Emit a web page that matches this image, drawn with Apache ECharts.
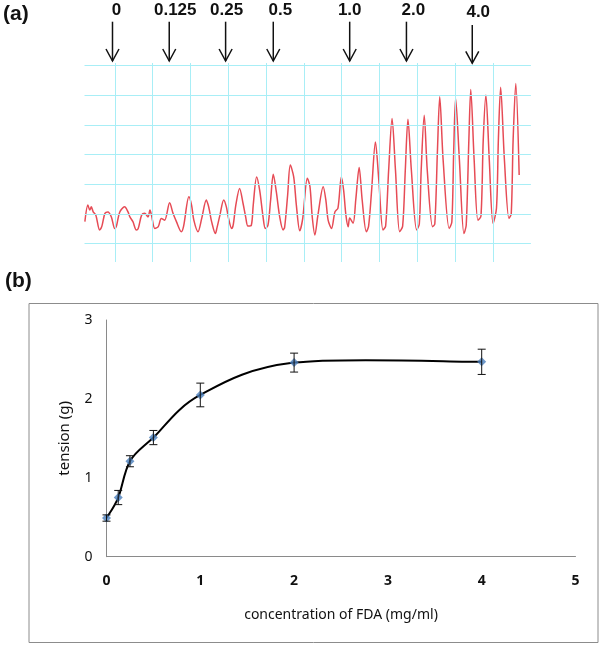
<!DOCTYPE html>
<html>
<head>
<meta charset="utf-8">
<script src="https://cdn.jsdelivr.net/npm/echarts@6/dist/echarts.min.js"></script>
<style>
html,body{margin:0;padding:0;background:#fff;}
#c{width:600px;height:646px;}
</style>
</head>
<body>
<div id="c"></div>
<script>
// ---------- DATA ----------
// Panel (a): recorded contraction trace, in chart-paper grid divisions [time, tension]
const tracePoints = [
 [0.21,0.74],[0.29,1.30],[0.34,1.13],[0.38,1.24],[0.43,1.07],[0.50,0.96],[0.60,0.46],[0.66,0.59],
 [0.74,1.02],[0.82,1.07],[0.91,0.90],[1.00,0.51],[1.05,0.62],[1.13,1.06],[1.26,1.24],[1.35,1.07],
 [1.40,0.90],[1.48,0.74],[1.57,0.46],[1.62,0.51],[1.71,0.96],[1.79,1.02],[1.88,0.90],[1.93,1.13],
 [1.97,0.96],[2.06,0.51],[2.15,0.57],[2.23,0.85],[2.32,0.79],[2.45,1.38],[2.54,1.02],[2.63,0.74],
 [2.76,0.40],[2.82,0.59],[2.96,1.58],[3.03,1.30],[3.09,0.79],[3.20,0.40],[3.30,0.86],[3.42,1.47],
 [3.47,1.30],[3.51,1.07],[3.56,0.74],[3.66,0.34],[3.70,0.52],[3.78,0.96],[3.88,1.47],[3.95,1.24],
 [4.00,0.90],[4.09,0.51],[4.13,0.62],[4.20,1.30],[4.30,1.86],[4.39,1.36],[4.46,0.90],[4.52,0.59],
 [4.61,0.62],[4.66,1.30],[4.75,2.25],[4.83,1.80],[4.92,0.90],[4.98,0.51],[5.05,0.62],[5.12,1.47],
 [5.19,2.34],[5.27,1.75],[5.36,0.90],[5.45,0.46],[5.49,0.55],[5.57,1.64],[5.64,2.65],[5.73,2.25],
 [5.80,1.30],[5.89,0.43],[5.97,0.86],[6.09,2.20],[6.16,1.92],[6.22,0.90],[6.29,0.29],[6.37,0.96],
 [6.51,1.92],[6.58,1.47],[6.64,0.79],[6.73,0.51],[6.82,1.07],[6.90,1.20],[6.99,2.25],[7.05,1.80],
 [7.11,0.96],[7.17,0.57],[7.21,0.86],[7.30,0.69],[7.37,1.47],[7.46,2.57],[7.54,1.47],[7.65,0.40],
 [7.71,0.59],[7.79,1.80],[7.89,3.43],[7.98,2.14],[8.09,0.46],[8.16,0.59],[8.24,2.48],[8.33,4.22],
 [8.42,2.48],[8.53,0.40],[8.61,0.59],[8.68,2.48],[8.75,4.19],[8.84,2.48],[8.98,0.46],[9.05,0.66],
 [9.10,2.48],[9.18,4.33],[9.26,2.48],[9.40,0.57],[9.46,0.66],[9.53,3.15],[9.59,4.95],[9.68,2.82],
 [9.84,0.51],[9.91,0.73],[9.96,3.15],[10.01,4.90],[10.11,2.82],[10.23,0.34],[10.29,0.62],[10.36,3.49],
 [10.41,5.20],[10.50,2.82],[10.60,0.79],[10.68,0.93],[10.74,3.49],[10.81,5.01],[10.90,2.82],[11.00,0.68],
 [11.09,1.19],[11.14,3.49],[11.20,5.27],[11.30,2.82],[11.42,0.85],[11.48,1.00],[11.53,3.49],[11.60,5.40],
 [11.69,2.31]
];
const paperLinesX = [1,2,3,4,5,6,7,8,9,10,11];
const paperLinesY = [0,1,2,3,4,5,6];
const doseLabels = ['0','0.125','0.25','0.5','1.0','2.0','4.0'];
const doseTimes  = [0.94, 2.44, 3.93, 5.19, 7.21, 8.71, 10.45];

// Panel (b): dose-response
const concentration = [0, 0.125, 0.25, 0.5, 1, 2, 4];
const tensionMean   = [0.49, 0.75, 1.21, 1.51, 2.05, 2.46, 2.47];
const tensionErr    = [0.04, 0.09, 0.07, 0.09, 0.15, 0.12, 0.16];
const xTicks = [0,1,2,3,4,5];
const yTicks = [0,1,2,3];

// ---------- CHART ----------
const chart = echarts.init(document.getElementById('c'), null, {renderer:'canvas'});
const curveData = concentration.map((c,i)=>[c, tensionMean[i]]);
const errData = concentration.map((c,i)=>[c, tensionMean[i]-tensionErr[i], tensionMean[i]+tensionErr[i]]);
const sansB = '"Noto Sans", "Open Sans", sans-serif';
const paperColor = '#a8eef6';

// Smoothed (Catmull-Rom) curve through the data, drawn in pixel space from the axes
function smoothCurve(params, api){
  if (params.dataIndex !== 0) return null;
  const P = curveData.map(d => api.coord(d));
  const n = P.length;
  let path = 'M' + P[0][0] + ' ' + P[0][1];
  for (let i = 0; i < n - 1; i++){
    const p0 = P[Math.max(i-1,0)], p1 = P[i], p2 = P[i+1], p3 = P[Math.min(i+2,n-1)];
    const c1 = [p1[0] + (p2[0]-p0[0])/6, p1[1] + (p2[1]-p0[1])/6];
    const c2 = [p2[0] - (p3[0]-p1[0])/6, p2[1] - (p3[1]-p1[1])/6];
    path += ' C' + c1[0] + ' ' + c1[1] + ' ' + c2[0] + ' ' + c2[1] + ' ' + p2[0] + ' ' + p2[1];
  }
  return {type:'path', shape:{pathData:path}, style:{fill:'none', stroke:'#000', lineWidth:2}};
}

const option = {
  animation:false,
  backgroundColor:'#ffffff',
  grid:[
    {left:84.5, width:446.4, top:63, height:199},
    {left:106.5, right:24.5, top:320, bottom:89.3}
  ],
  xAxis:[
    {gridIndex:0, type:'value', min:0.2, max:12, show:false},
    {gridIndex:1, type:'value', min:xTicks[0], max:xTicks[xTicks.length-1], interval:1,
     axisLine:{show:true, lineStyle:{color:'#8a8a8a', width:1}},
     axisTick:{show:false}, splitLine:{show:false},
     axisLabel:{color:'#111', fontSize:14, margin:17, fontFamily:sansB, fontWeight:'bold'},
     name:'concentration of FDA (mg/ml)', nameLocation:'middle', nameGap:51,
     nameTextStyle:{color:'#111', fontSize:14, fontFamily:sansB}}
  ],
  yAxis:[
    {gridIndex:0, type:'value', min:-0.62, max:6.09, show:false},
    {gridIndex:1, type:'value', min:yTicks[0], max:yTicks[yTicks.length-1], interval:1,
     axisLine:{show:true, lineStyle:{color:'#8a8a8a', width:1}},
     axisTick:{show:false}, splitLine:{show:false},
     axisLabel:{color:'#111', fontSize:14, margin:14, fontFamily:sansB},
     name:'tension (g)', nameLocation:'middle', nameGap:34, nameRotate:90,
     nameTextStyle:{color:'#111', fontSize:15, fontFamily:sansB}}
  ],
  series:[
    {
      type:'line', xAxisIndex:0, yAxisIndex:0, data:[], z:1, silent:true,
      markLine:{
        silent:true, symbol:['none','none'], label:{show:false}, animation:false,
        lineStyle:{color:paperColor, width:1, type:'solid'},
        emphasis:{disabled:true},
        data:[...paperLinesX.map(v=>({xAxis:v})), ...paperLinesY.map(v=>({yAxis:v}))]
      }
    },
    {
      type:'line', xAxisIndex:0, yAxisIndex:0, data:tracePoints, z:2,
      showSymbol:false, smooth:0.3, silent:true,
      lineStyle:{color:'#e64b55', width:1.5}
    },
    {
      type:'custom', xAxisIndex:1, yAxisIndex:1, data:curveData, z:2,
      renderItem:smoothCurve, silent:true
    },
    {
      type:'scatter', xAxisIndex:1, yAxisIndex:1, data:curveData, z:3,
      symbol:'diamond', symbolSize:9,
      itemStyle:{color:'#4a7ebb', borderWidth:0}
    },
    {
      type:'custom', xAxisIndex:1, yAxisIndex:1, data:errData, z:4,
      renderItem:function(params, api){
        const x = api.value(0), lo = api.value(1), hi = api.value(2);
        const pH = api.coord([x, hi]), pL = api.coord([x, lo]);
        const w = 4;
        const st = {stroke:'#111', lineWidth:1};
        return {type:'group', children:[
          {type:'line', shape:{x1:pH[0], y1:pH[1], x2:pL[0], y2:pL[1]}, style:st},
          {type:'line', shape:{x1:pH[0]-w, y1:pH[1], x2:pH[0]+w, y2:pH[1]}, style:st},
          {type:'line', shape:{x1:pL[0]-w, y1:pL[1], x2:pL[0]+w, y2:pL[1]}, style:st}
        ]};
      }
    }
  ]
};
chart.setOption(option);

// Annotations: arrows marking dose additions, panel labels, panel (b) frame
const g = [];
g.push({type:'text', left:3, top:4, style:{text:'(a)', fontSize:21, fontWeight:'bold', fill:'#111', fontFamily:'"Liberation Sans", Arial, sans-serif'}});
g.push({type:'text', left:5, top:271, style:{text:'(b)', fontSize:21, fontWeight:'bold', fill:'#111', fontFamily:'"Liberation Sans", Arial, sans-serif'}});
g.push({type:'rect', shape:{x:29, y:303.5, width:569, height:339}, style:{fill:'none', stroke:'#8c8c8c', lineWidth:1}, z:-1});
const labelDx = [4, 6, 1, 7, 0, 7, 6];
doseTimes.forEach((t,i)=>{
  const px = chart.convertToPixel({xAxisIndex:0}, t);
  const last = i === doseTimes.length-1;
  const y0 = last ? 25 : 21.7, y1 = last ? 63.3 : 61;
  const st = {stroke:'#111', lineWidth:1.5};
  g.push({type:'line', shape:{x1:px, y1:y0, x2:px, y2:y1}, style:st});
  g.push({type:'polyline', shape:{points:[[px-6.5, y1-12],[px, y1],[px+6.5, y1-12]]}, style:Object.assign({fill:'none'}, st)});
  g.push({type:'text', x:px+labelDx[i], y:last ? 12.7 : 10,
    style:{text:doseLabels[i], fontSize:17, fontWeight:'bold', fill:'#111',
      fontFamily:'"Liberation Sans", Arial, sans-serif', align:'center', verticalAlign:'middle'}});
});
chart.setOption({graphic:{elements:g}});
</script>
</body>
</html>
